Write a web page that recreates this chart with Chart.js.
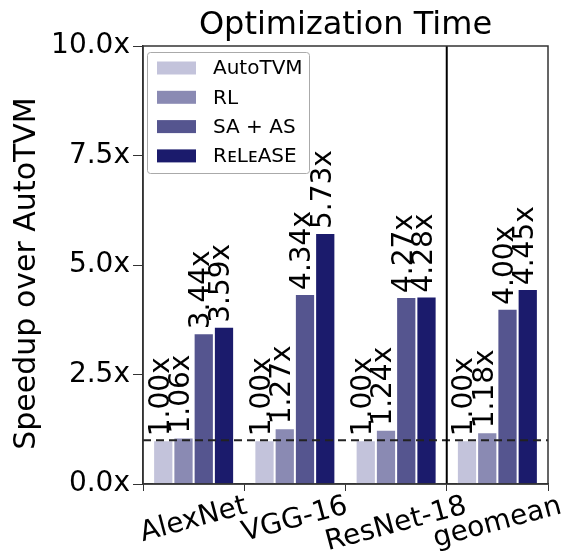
<!DOCTYPE html>
<html lang="en">
<head>
<meta charset="UTF-8">
<title>Optimization Time</title>
<script src="https://cdn.jsdelivr.net/npm/chart.js"></script>
<style>
  html, body { margin: 0; padding: 0; background: #fff; }
</style>
</head>
<body>
<canvas id="speedup" width="570" height="553"></canvas>
<script>
// models on the x axis, one bar per tuner
const models = ['AlexNet', 'VGG-16', 'ResNet-18', 'geomean'];
const seriesNames = ['AutoTVM', 'RL', 'SA + AS', 'RᴇLᴇASE'];
const autotvm = [1.00, 1.00, 1.00, 1.00];
const rl = [1.06, 1.27, 1.24, 1.18];
const saAs = [3.44, 4.34, 4.27, 4.00];
const release = [3.59, 5.73, 4.28, 4.45];
const yTicks = [0, 2.5, 5, 7.5, 10];
const baseline = 1.0;
const yTitle = 'Speedup over AutoTVM';

const colors = ['#c3c3db', '#8a8ab3', '#55558f', '#1b1b6c'];
const FONT = '"DejaVu Sans", sans-serif';

// value labels, category labels, reference lines and the legend box
const extras = {
  id: 'extras',
  afterDatasetsDraw(chart) {
    const {ctx, chartArea: a, scales: {x, y}} = chart;
    ctx.save();

    // dashed line at 1.0x
    const yb = y.getPixelForValue(baseline);
    ctx.strokeStyle = '#222';
    ctx.lineWidth = 2;
    ctx.setLineDash([8, 5]);
    ctx.beginPath();
    ctx.moveTo(a.left, yb);
    ctx.lineTo(a.right, yb);
    ctx.stroke();
    ctx.setLineDash([]);

    // separator before geomean
    const xs = (x.getPixelForValue(2) + x.getPixelForValue(3)) / 2;
    ctx.strokeStyle = '#000';
    ctx.lineWidth = 2;
    ctx.beginPath();
    ctx.moveTo(xs, a.top);
    ctx.lineTo(xs, a.bottom);
    ctx.stroke();

    // frame
    ctx.strokeStyle = '#333';
    ctx.lineWidth = 1.5;
    ctx.strokeRect(a.left, a.top, a.right - a.left, a.bottom - a.top);

    // rotated value labels
    ctx.font = '28px ' + FONT;
    ctx.fillStyle = '#000';
    ctx.textAlign = 'left';
    ctx.textBaseline = 'middle';
    chart.data.datasets.forEach((ds, i) => {
      chart.getDatasetMeta(i).data.forEach((bar, j) => {
        ctx.save();
        ctx.translate(bar.x - 2, bar.y - 4);
        ctx.rotate(-Math.PI / 2);
        ctx.fillText(ds.data[j].toFixed(2) + 'x', 0, 0);
        ctx.restore();
      });
    });

    // category labels, tilted 15 degrees, centred under each group
    const rot = 15 * Math.PI / 180;
    const lh = 28 * 1.17;
    ctx.textAlign = 'center';
    models.forEach((m, j) => {
      const w = ctx.measureText(m).width;
      const cy = a.bottom + 6 + (w * Math.sin(rot) + lh * Math.cos(rot)) / 2;
      ctx.save();
      ctx.translate(x.getPixelForValue(j), cy);
      ctx.rotate(-rot);
      ctx.fillText(m, 0, 0);
      ctx.restore();
    });

    // y axis title (sits a bit below the axis middle in the original)
    ctx.font = '30px ' + FONT;
    ctx.save();
    ctx.translate(27.5, (a.top + a.bottom) / 2 + 8.5);
    ctx.rotate(-Math.PI / 2);
    ctx.fillText(yTitle, 0, 0);
    ctx.restore();

    // legend
    const lx = a.left + 4, ly = a.top + 6, lw = 162, lhgt = 121;
    ctx.fillStyle = 'rgba(255,255,255,0.9)';
    ctx.strokeStyle = '#aaa';
    ctx.lineWidth = 1;
    ctx.beginPath();
    ctx.roundRect(lx + 0.5, ly + 0.5, lw, lhgt, 3);
    ctx.fill();
    ctx.stroke();
    ctx.font = '20px ' + FONT;
    ctx.textAlign = 'left';
    chart.data.datasets.forEach((ds, i) => {
      const ry = ly + 16 + i * 29.3;
      ctx.fillStyle = ds.backgroundColor;
      ctx.fillRect(lx + 10, ry - 6.5, 39, 13);
      ctx.fillStyle = '#000';
      ctx.fillText(ds.label, lx + 66, ry + 1);
    });

    ctx.restore();
  }
};

const seriesData = [autotvm, rl, saAs, release];

new Chart(document.getElementById('speedup'), {
  type: 'bar',
  data: {
    labels: models,
    datasets: seriesNames.map((name, i) => ({
      label: name,
      data: seriesData[i],
      backgroundColor: colors[i],
      borderColor: '#fff',
      borderWidth: 1,
      categoryPercentage: 0.8,
      barPercentage: 1.0
    }))
  },
  options: {
    responsive: false,
    animation: false,
    devicePixelRatio: 1,
    layout: { padding: { left: 0, right: 22, top: 0, bottom: 0 } },
    plugins: {
      legend: { display: false },
      tooltip: { enabled: false },
      title: {
        display: true,
        fullSize: false,
        text: 'Optimization Time',
        color: '#000',
        font: { family: FONT, size: 32, weight: 'normal' },
        padding: { top: 6, bottom: 1.6 }
      }
    },
    scales: {
      x: {
        offset: true,
        grid: { display: true, drawOnChartArea: false, drawTicks: true, tickLength: 7, color: '#333', offset: true },
        border: { display: true, color: '#333', width: 1.5 },
        ticks: { display: false },
        afterFit: s => { s.height = 69; }
      },
      y: {
        min: 0,
        max: 10,
        afterBuildTicks: s => { s.ticks = yTicks.map(v => ({ value: v })); },
        ticks: {
          color: '#000',
          padding: 3,
          font: { family: FONT, size: 28 },
          callback: v => v.toFixed(1) + 'x'
        },
        grid: { display: true, drawOnChartArea: false, drawTicks: true, tickLength: 10, color: '#333' },
        border: { display: true, color: '#333', width: 1.5 },
        afterFit: s => { s.width = 143; }
      }
    }
  },
  plugins: [extras]
});
</script>
</body>
</html>
